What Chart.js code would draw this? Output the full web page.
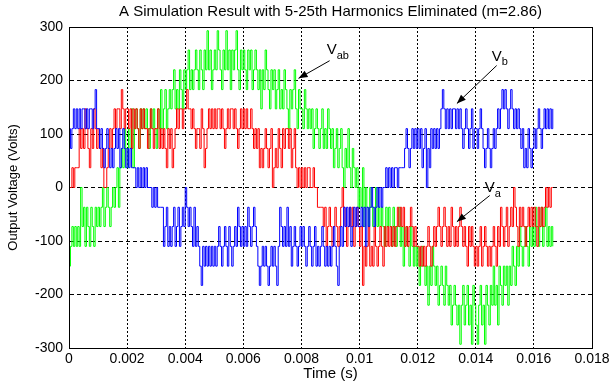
<!DOCTYPE html>
<html>
<head>
<meta charset="utf-8">
<script src="https://cdn.jsdelivr.net/npm/chart.js@4.4.1/dist/chart.umd.min.js"></script>
<style>
html,body{margin:0;padding:0;background:#fff;}
#wrap{width:609px;height:383px;}
</style>
</head>
<body>
<div id="wrap"><canvas id="canvas" width="609" height="383"></canvas></div>
<script>
// sample spacing of the simulated output (s)
const sampleStep = 0.00005;

const xTicks = [0, 0.002, 0.004, 0.006, 0.008, 0.01, 0.012, 0.014, 0.016, 0.018];
const xTickLabels = ['0', '0.002', '0.004', '0.006', '0.008', '0.01', '0.012', '0.014', '0.016', '0.018'];
const yTicks = [300, 200, 100, 0, -100, -200, -300];
const yTickLabels = ['300', '200', '100', '0', '-100', '-200', '-300'];

// phase voltage Va (red), one row per millisecond
const va = [
  0,0,37,0,37,37,37,110,73,110,73,147,110,73,37,110,73,147,110,73,
  110,73,37,73,0,0,37,73,110,73,110,147,110,147,147,110,183,147,110,147,
  147,110,147,73,147,110,147,110,73,147,110,147,110,110,73,110,147,110,73,110,
  110,147,73,110,73,110,73,37,110,73,110,37,73,110,147,110,147,147,110,147,
  147,183,147,147,110,147,110,73,110,110,73,147,110,37,73,110,147,110,147,110,
  147,110,147,147,110,147,110,73,110,147,110,147,147,110,147,110,73,110,147,110,
  147,110,147,110,110,147,110,73,110,73,110,37,73,37,73,110,73,37,73,110,
  0,37,73,37,110,73,37,110,73,110,110,73,110,37,73,110,37,0,37,0,
  37,0,37,0,37,37,0,0,37,0,0,-37,-37,-37,-37,-73,-37,-110,-73,-37,
  -73,-110,-73,-37,-73,-110,-73,-37,0,-37,-73,-110,-73,-37,-73,-37,-110,-73,-37,-73,
  -110,-73,-183,-110,-147,-110,-73,-147,-110,-147,-73,-110,-147,-110,-73,-110,-147,-73,-110,-73,
  -110,-73,-110,-73,-110,-73,-37,-73,-37,-73,-37,-110,-73,-110,-73,-37,-73,-110,-73,-110,
  -110,-147,-110,-147,-110,-147,-110,-73,-110,-147,-110,-73,-110,-73,-37,-73,-110,-73,-37,-73,
  -110,-73,-110,-37,-73,-110,-73,-110,-73,-37,-73,-110,-73,-110,-147,-73,-110,-73,-110,-147,
  -110,-147,-110,-73,-147,-110,-73,-110,-147,-110,-147,-110,-73,-110,-147,-73,-110,-37,-73,-110,
  -73,-37,-110,-73,-37,-73,0,-37,-73,-110,-37,-73,-37,-73,-110,-73,-37,-73,-37,-73,
  -37,-73,-110,-37,-73,-37,-73,-37,0,-37,0,-37,0,0
];

// phase voltage Vb (blue)
const vb = [
  110,73,110,147,110,147,110,147,110,147,147,110,147,110,147,147,110,147,183,110,
  110,73,110,73,37,73,110,73,37,73,37,73,110,73,110,37,73,110,73,37,
  73,37,73,37,37,37,0,37,0,37,0,37,0,37,0,0,0,-37,0,-37,
  0,-37,-37,-37,-37,-110,-73,-37,-110,-73,-110,-73,-37,-110,-73,-37,-110,-73,-37,-73,
  0,-37,-73,-37,-73,-110,-37,-110,-73,-110,-147,-183,-110,-147,-110,-147,-110,-147,-110,-147,
  -110,-147,-110,-73,-110,-147,-110,-73,-110,-147,-73,-110,-147,-110,-73,-110,-37,-73,-110,-73,
  -110,-73,-110,-37,-73,-110,-73,-37,-73,-110,-147,-183,-147,-110,-147,-110,-147,-183,-147,-110,
  -147,-110,-147,-183,-110,-37,-73,-110,-73,-110,-37,-110,-73,-147,-110,-73,-110,-147,-110,-73,
  -110,-73,-110,-147,-110,-73,-110,-147,-110,-73,-147,-110,-147,-110,-73,-110,-147,-110,-147,-110,
  -147,-110,-73,-110,-147,-183,-110,-73,-110,-37,-73,-37,-73,-37,-110,-73,-37,-73,-37,-73,
  -73,-37,-73,-37,-110,-37,-73,-37,0,-37,-73,-37,0,-37,0,-37,0,0,37,0,
  37,0,37,0,37,37,0,37,37,37,37,73,110,73,37,73,110,73,110,73,
  110,73,110,37,73,110,0,73,37,110,73,110,73,110,73,110,147,183,147,110,
  147,110,147,110,147,147,110,147,110,147,110,73,110,147,110,73,110,147,73,110,
  110,73,110,147,110,73,37,73,110,73,37,73,110,73,110,147,110,147,183,147,
  183,147,110,147,183,147,110,147,110,147,110,73,110,37,73,37,110,73,37,73,
  110,73,110,147,110,73,110,147,110,147,110,147,110,147
];

// line voltage Vab (green)
const vab = [
  -147,-110,-73,-110,-73,-110,-73,-110,0,-73,-37,-110,-37,-73,-110,-37,-73,-110,-37,-73,
  -37,-73,-37,0,-73,-37,0,-37,-73,-37,0,-37,0,37,-37,37,73,37,110,73,
  37,110,73,147,37,110,147,110,73,147,110,147,110,147,110,73,147,110,147,110,
  73,147,110,183,110,147,183,110,147,183,147,183,220,147,183,147,220,183,147,220,
  183,220,257,183,220,183,220,257,220,183,257,220,183,257,220,293,220,257,183,220,
  257,220,293,257,220,183,257,220,293,220,257,183,257,220,257,293,220,183,257,220,
  257,220,183,257,220,257,183,220,257,220,183,220,147,220,183,257,220,183,147,220,
  183,220,147,183,220,147,183,147,220,183,147,110,183,147,183,220,147,110,183,147,
  147,110,183,147,110,147,110,147,73,110,147,110,73,110,147,73,110,73,147,110,
  73,110,37,73,110,37,73,110,37,0,73,37,110,37,0,73,37,0,37,-37,
  0,-37,37,-73,0,-37,-73,0,-37,-73,-37,0,-73,-37,-73,-37,-73,-110,-37,-73,
  -37,-73,-110,-37,-73,-110,-73,-37,-110,-73,-147,-110,-73,-110,-147,-73,-110,-147,-110,-147,
  -110,-183,-147,-110,-147,-183,-147,-220,-147,-183,-110,-147,-183,-147,-220,-183,-147,-183,-220,-147,
  -183,-220,-183,-257,-220,-183,-220,-257,-220,-293,-220,-183,-257,-220,-183,-257,-220,-293,-183,-220,
  -257,-293,-220,-183,-257,-220,-293,-183,-220,-257,-183,-220,-147,-220,-183,-257,-147,-183,-220,-147,
  -183,-147,-220,-147,-183,-110,-147,-183,-110,-147,-73,-110,-147,-110,-73,-110,-147,-73,-110,-73,
  -110,-37,-73,-110,-73,-37,-110,-73,-37,-110,-73,-110,-73,-110
];

const fontFamily = '"Liberation Sans", Arial, sans-serif';
const titleText = 'A Simulation Result with 5-25th Harmonics Eliminated (m=2.86)';

// labels with arrows, placed in data units
const callouts = [
  {main:'V', sub:'ab', tx:0.00887, ty:258, from:[0.00897,237], to:[0.00790,204]},
  {main:'V', sub:'b',  tx:0.01455, ty:245, from:[0.01472,228], to:[0.01335,157]},
  {main:'V', sub:'a',  tx:0.01431, ty:0,   from:[0.01448,-15], to:[0.01335,-64]}
];

let toPoints = arr => arr.map((v, i) => ({x: i * sampleStep, y: v}));
let align = p => Math.round(p - 0.5) + 0.5;

let overlay = {
  id: 'overlay',
  afterDraw(chart) {
    const {ctx, chartArea: a, scales: {x, y}} = chart;
    ctx.save();
    // box round the plot
    ctx.strokeStyle = '#000';
    ctx.lineWidth = 1;
    ctx.setLineDash([]);
    ctx.strokeRect(align(a.left), align(a.top), align(a.right) - align(a.left), align(a.bottom) - align(a.top));
    // title
    ctx.fillStyle = '#000';
    ctx.font = '15px ' + fontFamily;
    ctx.textAlign = 'center';
    ctx.textBaseline = 'middle';
    ctx.fillText(titleText, (a.left + a.right) / 2, 12);
    // callouts
    for (let c of callouts) {
      let px = x.getPixelForValue(c.tx), py = y.getPixelForValue(c.ty);
      ctx.textAlign = 'left';
      ctx.font = '15px ' + fontFamily;
      ctx.fillText(c.main, px, py);
      let w = ctx.measureText(c.main).width;
      ctx.font = '11px ' + fontFamily;
      ctx.fillText(c.sub, px + w, py + 6);
      let x0 = x.getPixelForValue(c.from[0]), y0 = y.getPixelForValue(c.from[1]);
      let x1 = x.getPixelForValue(c.to[0]), y1 = y.getPixelForValue(c.to[1]);
      ctx.beginPath();
      ctx.moveTo(x0, y0);
      ctx.lineTo(x1, y1);
      ctx.stroke();
      let ang = Math.atan2(y1 - y0, x1 - x0);
      ctx.beginPath();
      ctx.moveTo(x1, y1);
      ctx.lineTo(x1 - 9 * Math.cos(ang) + 3.5 * Math.sin(ang), y1 - 9 * Math.sin(ang) - 3.5 * Math.cos(ang));
      ctx.lineTo(x1 - 9 * Math.cos(ang) - 3.5 * Math.sin(ang), y1 - 9 * Math.sin(ang) + 3.5 * Math.cos(ang));
      ctx.closePath();
      ctx.fill();
    }
    ctx.restore();
  }
};

let series = (data, color) => ({
  data: toPoints(data),
  borderColor: color,
  backgroundColor: color,
  borderWidth: 1,
  stepped: true,
  pointRadius: 0,
  fill: false
});

let ctx = document.getElementById('canvas').getContext('2d');
const chart = new Chart(ctx, {
  type: 'line',
  data: {
    datasets: [series(vb, '#0000ff'), series(va, '#ff0000'), series(vab, '#00ff00')]
  },
  options: {
    responsive: false,
    animation: false,
    parsing: false,
    normalized: true,
    layout: {padding: {left: 0, right: 17, top: 27, bottom: 0}},
    plugins: {legend: {display: false}, tooltip: {enabled: false}, title: {display: false}},
    scales: {
      x: {
        type: 'linear', min: 0, max: 0.018,
        afterBuildTicks: s => { s.ticks = xTicks.map(v => ({value: v})); },
        afterFit: s => { s.height = 35; s.paddingLeft = 0; s.paddingRight = 0; },
        ticks: {
          callback: (v, i) => xTickLabels[i],
          color: '#000', padding: 3, maxRotation: 0, autoSkip: false,
          font: {family: fontFamily, size: 14}
        },
        grid: {color: '#000', lineWidth: 1, drawTicks: false},
        border: {color: '#000', dash: [2, 2]},
        title: {display: true, text: 'Time (s)', color: '#000', font: {family: fontFamily, size: 15}, padding: {top: 0, bottom: 0}}
      },
      y: {
        type: 'linear', min: -300, max: 300,
        afterBuildTicks: s => { s.ticks = yTicks.map(v => ({value: v})); },
        afterFit: s => { s.width = 69; s.paddingTop = 0; s.paddingBottom = 0; },
        ticks: {
          callback: (v, i) => yTickLabels[i],
          color: '#000', padding: 6,
          font: {family: fontFamily, size: 14}
        },
        grid: {color: '#000', lineWidth: 1, drawTicks: false},
        border: {color: '#000', dash: [4, 3]},
        title: {display: true, text: 'Output Voltage (Volts)', color: '#000', font: {family: fontFamily, size: 13}, padding: {top: 6, bottom: 0}}
      }
    }
  },
  plugins: [overlay]
});
</script>
</body>
</html>
